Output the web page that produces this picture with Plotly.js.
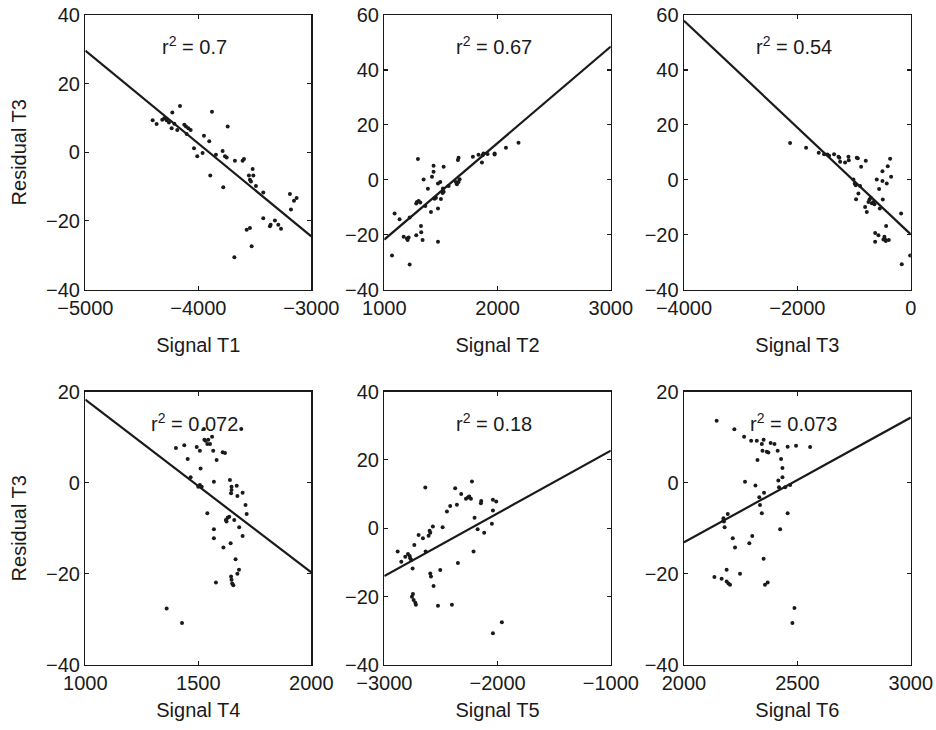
<!DOCTYPE html>
<html>
<head>
<meta charset="utf-8">
<script src="https://cdn.plot.ly/plotly-3.0.1.min.js"></script>
<style>html,body{margin:0;padding:0;background:#fff;}#chart{width:936px;height:730px;}</style>
</head>
<body>
<div id="chart"></div>
<script>
// ---- data ----
const xTitles = ["Signal T1", "Signal T2", "Signal T3", "Signal T4", "Signal T5", "Signal T6"];
const yTitle = "Residual T3";
const r2Labels = ["0.7", "0.67", "0.54", "0.072", "0.18", "0.073"];

const xRanges = [[-5000, -3000], [1000, 3000], [-4000, 0], [1000, 2000], [-3000, -1000], [2000, 3000]];
const yRanges = [[-40, 40], [-40, 60], [-40, 60], [-40, 20], [-40, 40], [-40, 20]];
const xTickStep = [1000, 1000, 2000, 500, 1000, 500];
const yTickStep = [20, 20, 20, 20, 20, 20];

const x1 = [-4404,-4369,-4319,-4301,-4280,-4260,-4236,-4230,-4212,-4186,-4162,-4124,-4109,-4103,-4088,-4068,-4038,-4009,-3962,-3950,-3903,-3894,-3879,-3844,-3785,-3779,-3764,-3740,-3749,-3676,-3681,-3608,-3596,-3572,-3543,-3552,-3543,-3534,-3519,-3513,-3528,-3490,-3425,-3425,-3366,-3360,-3322,-3292,-3268,-3189,-3180,-3153,-3130];
const y1 = [9.3,8.2,9.5,9.9,9.3,8.7,7.0,11.6,8.3,6.5,13.5,8.0,7.5,5.3,7.0,6.5,1.2,-1.2,-0.2,4.8,3.2,-6.8,11.8,-0.7,0.4,-10.2,-1.2,7.5,-1.5,-2.5,-30.6,-2.5,-2.0,-22.6,-22.1,-6.8,-8.0,-8.5,-4.9,-6.8,-27.4,-9.8,-11.7,-19.2,-21.6,-21.1,-19.9,-21.1,-22.3,-12.2,-16.7,-14.1,-13.3];

const x2 = [1068,1091,1135,1171,1200,1206,1215,1224,1224,1282,1282,1288,1297,1303,1318,1324,1326,1338,1347,1362,1385,1412,1421,1435,1435,1444,1456,1474,1474,1474,1494,1500,1515,1518,1524,1524,1568,1632,1641,1650,1656,1656,1665,1782,1832,1862,1868,1876,1912,1974,1974,2074,2185];
const y2 = [-27.6,-12.3,-14.4,-20.8,-21.4,-22.0,-21.1,-13.8,-30.9,-20.2,-8.7,-8.1,7.5,-7.8,-8.3,-16.9,-19.1,-22.0,0.1,-9.6,-3.3,-11.8,1.1,2.9,5.1,-6.9,-6.6,-1.4,-10.5,-22.6,-0.8,-7.0,-4.8,-3.2,4.7,-4.4,-2.3,-0.8,-1.7,7.2,8.0,-0.8,0.2,8.4,9.1,6.3,8.9,9.5,9.4,9.2,9.5,11.6,13.5];

const x3 = [-2129,-1847,-1624,-1529,-1471,-1441,-1353,-1276,-1259,-1247,-1159,-1100,-1094,-953,-935,-876,-794,-1012,-988,-971,-965,-924,-894,-806,-776,-747,-729,-706,-688,-659,-641,-629,-629,-600,-571,-559,-547,-500,-500,-494,-482,-465,-453,-441,-435,-424,-406,-388,-365,-347,-171,-159,-12];
const y3 = [13.4,11.6,9.8,9.3,9.2,8.7,9.3,8.4,8.0,6.5,6.3,8.4,7.1,8.0,7.8,4.7,6.9,0.1,-1.4,-2.0,-7.1,-5.0,-2.3,-9.9,-11.8,-8.1,-7.2,-6.6,-8.6,-8.1,-8.9,-19.4,-22.6,0.1,-20.2,-3.4,-10.5,3.1,-0.5,-7.2,-21.8,-20.8,-21.8,-22.3,-16.9,-1.4,4.9,-22.0,7.6,1.1,-12.3,-30.8,-27.6];

const x4 = [1360,1401,1428,1438,1453,1466,1493,1500,1507,1507,1510,1515,1527,1532,1540,1540,1544,1552,1561,1566,1569,1569,1569,1578,1581,1608,1611,1618,1622,1625,1630,1637,1640,1643,1647,1647,1645,1645,1647,1650,1655,1659,1665,1670,1673,1673,1680,1681,1696,1696,1709,1714,1525,1690];
const y4 = [-27.6,7.6,-30.8,8.2,5.2,1.2,7.8,-0.9,7.0,-0.5,3.1,-0.9,9.4,9.2,-6.7,8.5,9.4,8.5,10.1,7.0,0.2,-10.2,-12.2,-21.9,5.0,6.7,-14.2,6.5,-8.2,-8.5,-7.7,-7.5,0.6,-13.3,-0.9,-1.6,-2.3,-20.6,-21.3,-22.1,-22.5,-8.2,-16.8,-0.7,-2.9,-20.0,-19.1,-9.8,-2.2,-11.7,-4.9,-6.9,11.8,11.8];

const x5 = [-2882,-2850,-2815,-2791,-2776,-2771,-2762,-2756,-2750,-2747,-2741,-2735,-2726,-2721,-2697,-2659,-2638,-2635,-2609,-2600,-2594,-2594,-2588,-2571,-2565,-2526,-2506,-2485,-2447,-2418,-2403,-2374,-2359,-2350,-2321,-2279,-2262,-2250,-2235,-2226,-2212,-2203,-2176,-2147,-2144,-2118,-2050,-2041,-2041,-2041,-2012,-1962];
const y5 = [-6.8,-9.8,-8.3,-7.5,-8.1,-8.8,-9.3,-20.0,-11.8,-19.2,-21.0,-4.9,-21.8,-22.4,-2.0,-2.9,11.9,-6.8,-2.2,-0.7,-1.3,-13.2,-14.1,0.5,-16.9,-22.7,-12.2,0.3,4.9,6.5,-22.4,11.7,6.9,-10.2,10.0,8.6,9.0,9.3,8.6,13.7,-6.8,3.1,-0.3,7.3,8.0,-1.3,1.3,5.2,8.3,-30.7,7.8,-27.5];

const x6 = [2134,2144,2166,2174,2174,2176,2179,2188,2188,2193,2196,2203,2215,2222,2225,2247,2265,2269,2288,2296,2301,2315,2321,2324,2332,2335,2343,2343,2346,2351,2351,2353,2357,2365,2369,2372,2382,2399,2413,2416,2419,2424,2428,2434,2434,2446,2457,2457,2468,2478,2487,2494,2556];
const y6 = [-20.7,13.6,-21.1,-7.8,-8.3,-8.5,-9.8,-19.1,-21.7,-6.9,-22.1,-22.4,-12.2,11.7,-14.2,-20.0,10.1,0.2,-13.3,9.2,-11.7,-0.6,9.2,5.0,-3.2,-4.9,-6.7,8.5,7.0,9.4,-16.7,-2.2,-22.4,6.8,-21.9,6.6,8.7,8.5,7.0,0.5,-1.0,-10.2,5.2,3.2,1.2,-1.0,-6.7,7.9,-0.5,-30.8,-27.5,8.1,7.8];

// fitted regression lines (end points at the axis limits)
const fitY1 = [29.6, -24.5];
const fitY2 = [-21.8, 48.5];
const fitY3 = [57.9, -19.9];
const fitY4 = [18.2, -19.7];
const fitY5 = [-14.0, 22.7];
const fitY6 = [-13.1, 14.3];

const xs = [x1, x2, x3, x4, x5, x6];
const ys = [y1, y2, y3, y4, y5, y6];
const fits = [fitY1, fitY2, fitY3, fitY4, fitY5, fitY6];

// ---- layout geometry ----
const W = 936, H = 730;
const colPx = [[85.3, 311.3], [384.3, 610.8], [684, 910.8]];
const rowPx = [[15, 289.5], [391.5, 665]];
const ink = "#1a1a1a";
const FONT = "Liberation Sans, Arial, Helvetica, sans-serif";

const traces = [];
const layout = {
  width: W, height: H,
  margin: {l: 0, r: 0, t: 0, b: 0},
  paper_bgcolor: "#ffffff",
  plot_bgcolor: "#ffffff",
  showlegend: false,
  font: {family: FONT, size: 20, color: ink},
  annotations: []
};

for (let i = 0; i < 6; i++) {
  const n = i + 1;
  const col = i % 3, row = Math.floor(i / 3);
  const xa = "x" + (n === 1 ? "" : n), ya = "y" + (n === 1 ? "" : n);
  traces.push({
    type: "scatter", mode: "markers", x: xs[i], y: ys[i],
    xaxis: xa, yaxis: ya,
    marker: {size: 4, color: ink},
    hoverinfo: "x+y"
  });
  traces.push({
    type: "scatter", mode: "lines", x: xRanges[i], y: fits[i],
    xaxis: xa, yaxis: ya,
    line: {color: ink, width: 2.2},
    hoverinfo: "skip"
  });
  const axCommon = {
    showgrid: false, zeroline: false, showline: true, linecolor: ink, linewidth: 1.4,
    mirror: "ticks", ticks: "inside", ticklen: 4, tickwidth: 1.2, tickcolor: ink,
    tickfont: {family: FONT, size: 20, color: ink}, fixedrange: true
  };
  layout["xaxis" + (n === 1 ? "" : n)] = Object.assign({}, axCommon, {
    domain: [colPx[col][0] / W, colPx[col][1] / W],
    anchor: ya,
    range: xRanges[i],
    tick0: 0, dtick: xTickStep[i],
    title: {text: xTitles[i], font: {family: FONT, size: 20, color: ink}, standoff: row === 0 ? 20 : 9}
  });
  layout["yaxis" + (n === 1 ? "" : n)] = Object.assign({}, axCommon, {
    domain: [1 - rowPx[row][1] / H, 1 - rowPx[row][0] / H],
    anchor: xa,
    range: yRanges[i],
    tick0: 0, dtick: yTickStep[i],
    title: col === 0 ? {text: yTitle, font: {family: FONT, size: 20, color: ink}, standoff: 14} : {text: ""}
  });
  layout.annotations.push({
    xref: xa + " domain", yref: ya + " domain",
    x: 0.485, y: row === 0 ? 0.89 : 0.886,
    xanchor: "center", yanchor: "middle",
    text: "r<sup>2</sup> = " + r2Labels[i],
    showarrow: false,
    font: {family: FONT, size: 20, color: ink}
  });
}

Plotly.newPlot("chart", traces, layout, {displayModeBar: false, staticPlot: true});
</script>
</body>
</html>
